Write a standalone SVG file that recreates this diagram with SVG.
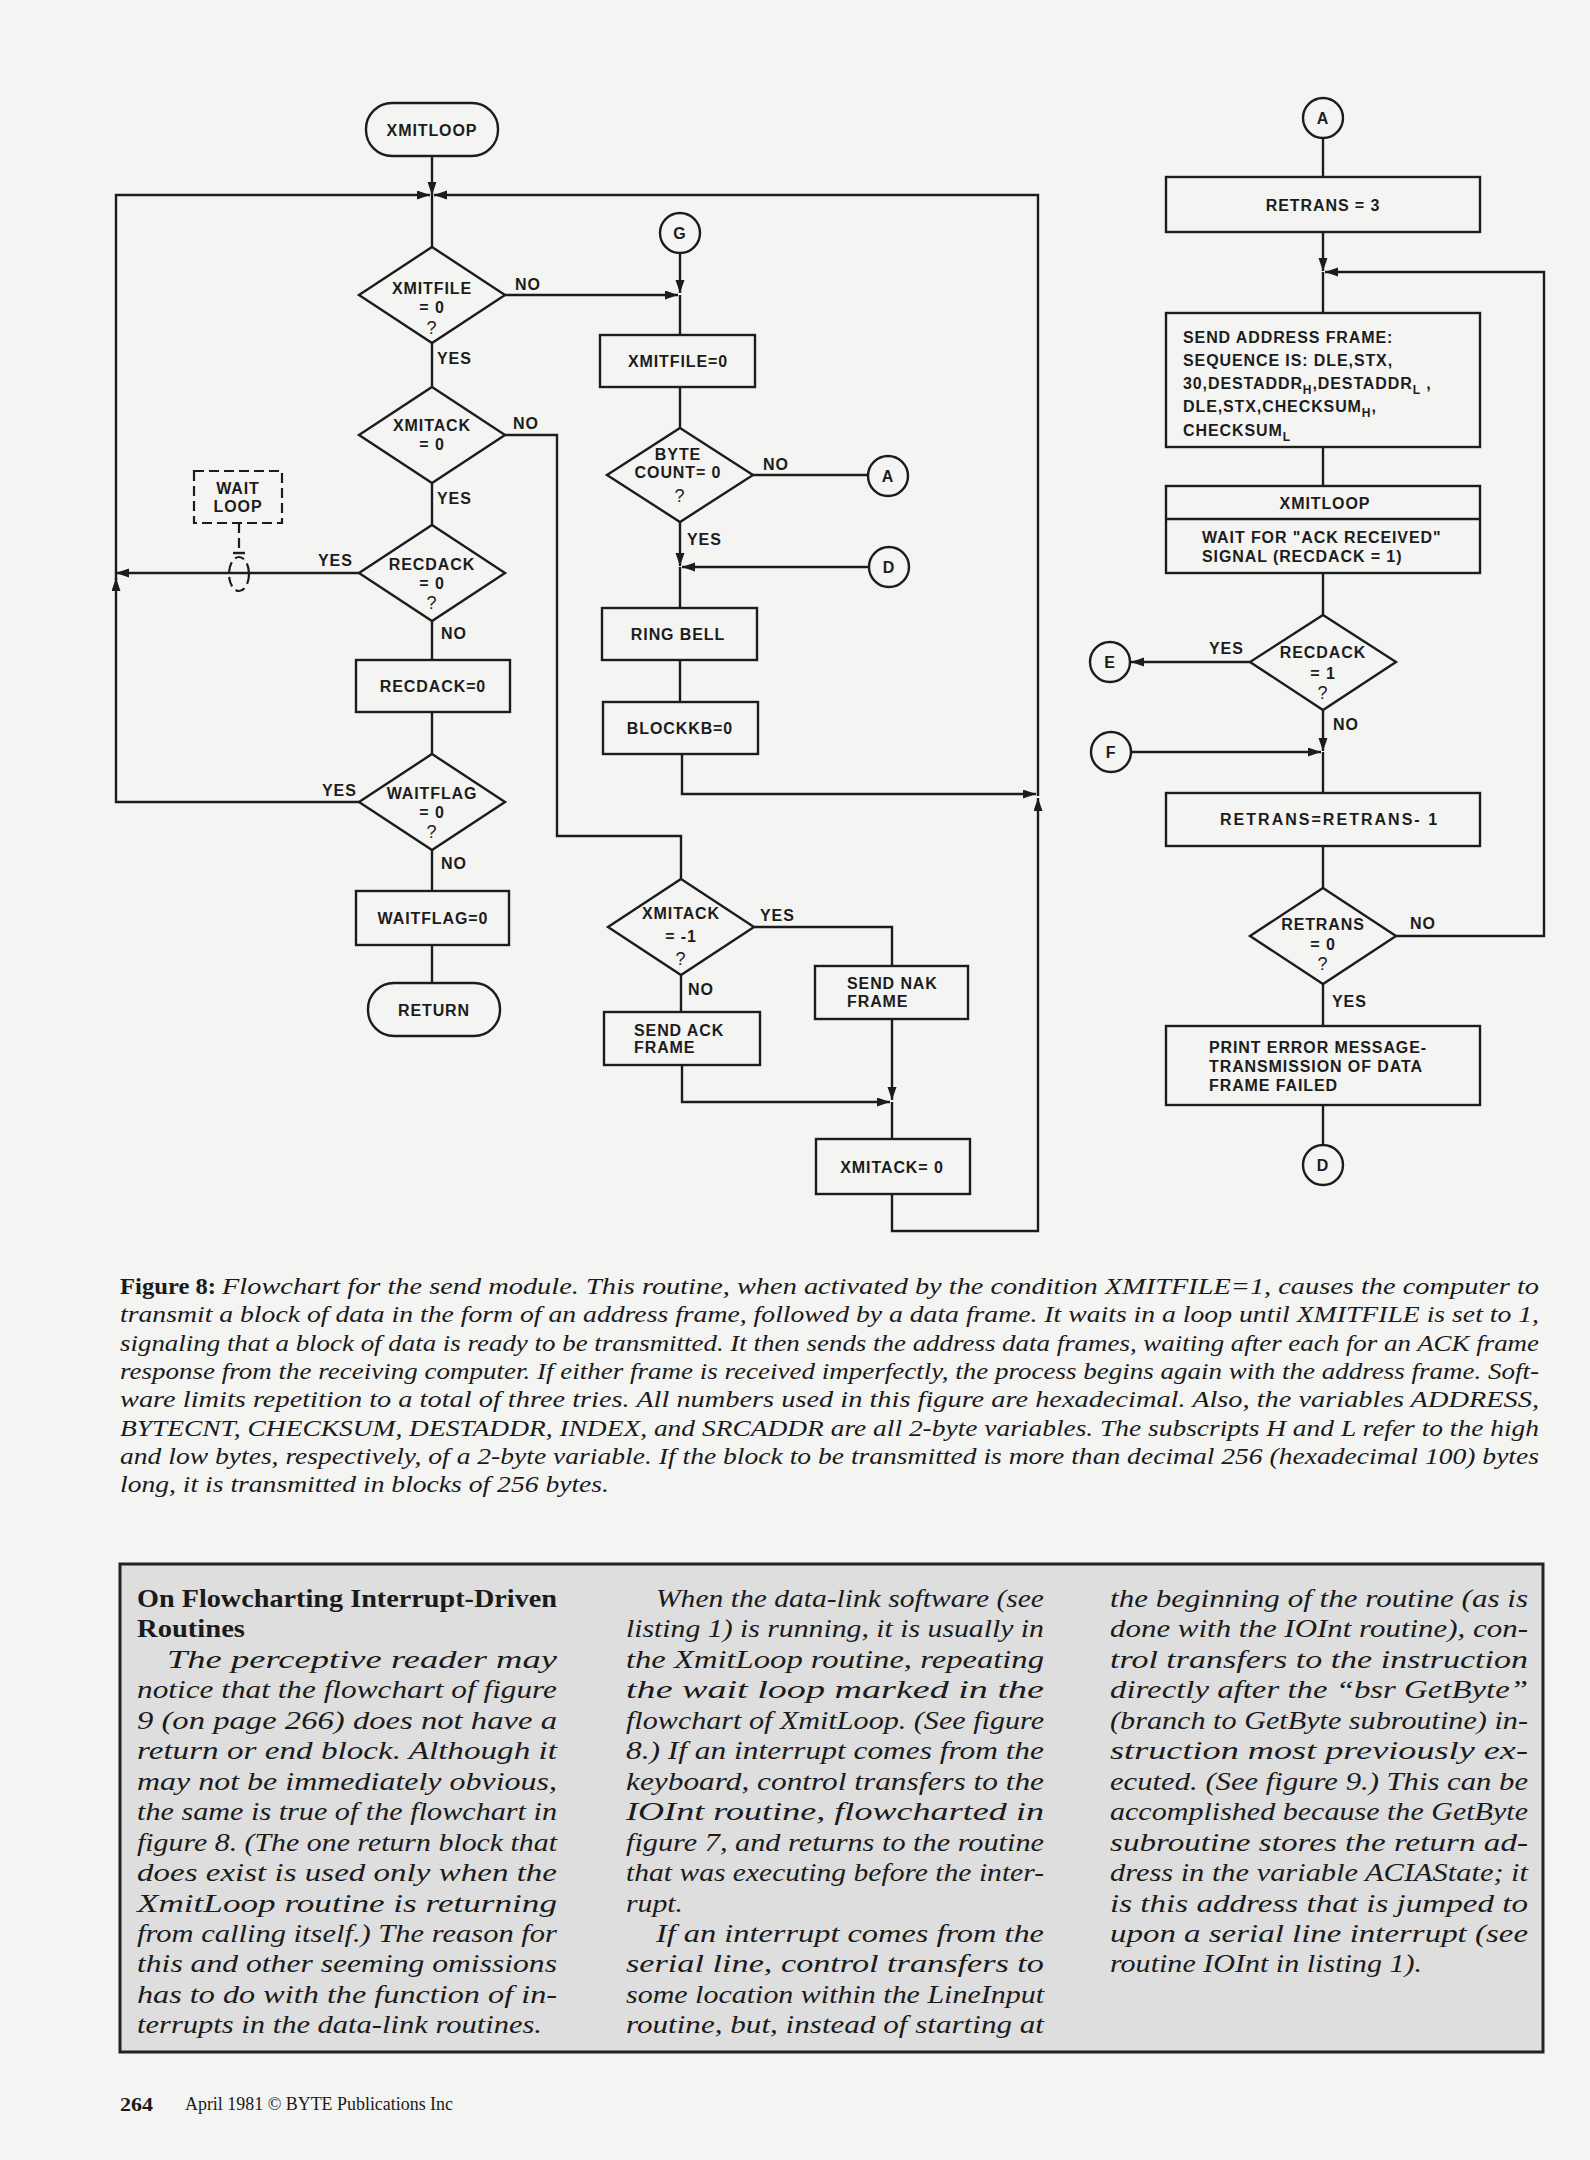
<svg xmlns="http://www.w3.org/2000/svg" width="1590" height="2160" viewBox="0 0 1590 2160">
<defs>
<marker id="ah" markerWidth="14" markerHeight="10" refX="13" refY="4.5" orient="auto" markerUnits="userSpaceOnUse">
<path d="M0,0 L13,4.5 L0,9 z" fill="#1c1c1c"/>
</marker>
</defs>
<style>
.ln{fill:none;stroke:#1c1c1c;stroke-width:2.4}
.bx{fill:none;stroke:#1c1c1c;stroke-width:2.4}
.ds{fill:none;stroke:#1c1c1c;stroke-width:2.2;stroke-dasharray:10 5}
.t{font-family:"Liberation Sans",Arial,sans-serif;font-weight:bold;font-size:16px;letter-spacing:0.9px;fill:#1c1c1c}
.c{text-anchor:middle}
.q{font-weight:normal;font-size:18px}
.cap{font-family:"Liberation Serif","Times New Roman",serif;font-style:italic;font-size:24px;fill:#1a1a1a}
.capb{font-family:"Liberation Serif","Times New Roman",serif;font-weight:bold;font-size:24px;fill:#1a1a1a}
.sb{font-family:"Liberation Serif","Times New Roman",serif;font-style:italic;font-size:26px;fill:#1a1a1a}
.sbh{font-family:"Liberation Serif","Times New Roman",serif;font-weight:bold;font-size:26px;fill:#1a1a1a}
.ft{font-family:"Liberation Serif","Times New Roman",serif;font-size:18px;fill:#1a1a1a}
</style>
<rect x="0" y="0" width="1590" height="2160" fill="#f4f4f2"/>

<g id="connectors">
<path class="ln" d="M432,156 V195" marker-end="url(#ah)"/>
<path class="ln" d="M432,195 V247"/>
<path class="ln" d="M432,343 V387"/>
<path class="ln" d="M432,483 V525"/>
<path class="ln" d="M432,621 V660"/>
<path class="ln" d="M432,712 V754"/>
<path class="ln" d="M432,850 V891"/>
<path class="ln" d="M432,945 V983"/>
<path class="ln" d="M505,295 H678" marker-end="url(#ah)"/>
<path class="ln" d="M680,253 V293" marker-end="url(#ah)"/>
<path class="ln" d="M680,295 V335"/>
<path class="ln" d="M505,435 H557 V836 H681 V879"/>
<path class="ln" d="M359,573 H116" marker-end="url(#ah)"/>
<path class="ln" d="M359,802 H116 V578" marker-end="url(#ah)"/>
<path class="ln" d="M116,580 V195 H430" marker-end="url(#ah)"/>
<path class="ln" d="M892,1194 V1231 H1038 V798" marker-end="url(#ah)"/>
<path class="ln" d="M682,754 V794 H1036" marker-end="url(#ah)"/>
<path class="ln" d="M1038,796 V195 H434" marker-end="url(#ah)"/>
<path class="ln" d="M680,387 V428"/>
<path class="ln" d="M753,475 H868"/>
<path class="ln" d="M680,522 V566" marker-end="url(#ah)"/>
<path class="ln" d="M869,567 H682" marker-end="url(#ah)"/>
<path class="ln" d="M680,567 V608"/>
<path class="ln" d="M680,660 V702"/>
<path class="ln" d="M754,927 H892 V966"/>
<path class="ln" d="M681,975 V1012"/>
<path class="ln" d="M682,1065 V1102 H890" marker-end="url(#ah)"/>
<path class="ln" d="M892,1019 V1100" marker-end="url(#ah)"/>
<path class="ln" d="M892,1102 V1139"/>
<path class="ln" d="M1323,138 V177"/>
<path class="ln" d="M1323,232 V271" marker-end="url(#ah)"/>
<path class="ln" d="M1396,936 H1544 V272 H1325" marker-end="url(#ah)"/>
<path class="ln" d="M1323,272 V313"/>
<path class="ln" d="M1323,447 V486"/>
<path class="ln" d="M1323,573 V615"/>
<path class="ln" d="M1250,662 H1131" marker-end="url(#ah)"/>
<path class="ln" d="M1323,710 V751" marker-end="url(#ah)"/>
<path class="ln" d="M1131,752 H1321" marker-end="url(#ah)"/>
<path class="ln" d="M1323,752 V793"/>
<path class="ln" d="M1323,846 V888"/>
<path class="ln" d="M1323,984 V1026"/>
<path class="ln" d="M1323,1105 V1145"/>
<path class="ds" d="M239,523 V552"/>
<path class="ln" d="M233,553 H245" stroke-width="2"/>
</g>

<g id="labels">
<text class="t" x="515" y="290">NO</text>
<text class="t" x="437" y="364">YES</text>
<text class="t" x="513" y="429">NO</text>
<text class="t" x="437" y="504">YES</text>
<text class="t" x="318" y="566">YES</text>
<text class="t" x="441" y="639">NO</text>
<text class="t" x="322" y="796">YES</text>
<text class="t" x="441" y="869">NO</text>
<text class="t" x="763" y="470">NO</text>
<text class="t" x="687" y="545">YES</text>
<text class="t" x="760" y="921">YES</text>
<text class="t" x="688" y="995">NO</text>
<text class="t" x="1209" y="654">YES</text>
<text class="t" x="1333" y="730">NO</text>
<text class="t" x="1410" y="929">NO</text>
<text class="t" x="1332" y="1007">YES</text>
</g>

<g id="n_xmitloop">
<rect class="bx" x="366" y="103" width="132" height="53" rx="26"/>
<text class="t c" x="432" y="136">XMITLOOP</text>
</g>
<g id="n_xmitfile_q">
<polygon class="bx" points="432,247 505,295 432,343 359,295"/>
<text class="t c" x="432" y="294">XMITFILE</text>
<text class="t c" x="432" y="313">= 0</text>
<text class="t c q" x="432" y="334">?</text>
</g>
<g id="n_xmitack_q">
<polygon class="bx" points="432,387 505,435 432,483 359,435"/>
<text class="t c" x="432" y="431">XMITACK</text>
<text class="t c" x="432" y="450">= 0</text>
</g>
<g id="n_waitloop">
<rect class="ds" x="194" y="471" width="88" height="52"/>
<text class="t c" x="238" y="494">WAIT</text>
<text class="t c" x="238" y="512">LOOP</text>
<ellipse class="ds" cx="239" cy="574" rx="10" ry="17" stroke-dasharray="6 5"/>
</g>
<g id="n_recdack_q">
<polygon class="bx" points="432,525 505,573 432,621 359,573"/>
<text class="t c" x="432" y="570">RECDACK</text>
<text class="t c" x="432" y="589">= 0</text>
<text class="t c q" x="432" y="609">?</text>
</g>
<g id="n_recdack0">
<rect class="bx" x="356" y="660" width="154" height="52"/>
<text class="t c" x="433" y="692">RECDACK=0</text>
</g>
<g id="n_waitflag_q">
<polygon class="bx" points="432,754 505,802 432,850 359,802"/>
<text class="t c" x="432" y="799">WAITFLAG</text>
<text class="t c" x="432" y="818">= 0</text>
<text class="t c q" x="432" y="838">?</text>
</g>
<g id="n_waitflag0">
<rect class="bx" x="356" y="891" width="153" height="54"/>
<text class="t c" x="433" y="924">WAITFLAG=0</text>
</g>
<g id="n_return">
<rect class="bx" x="368" y="983" width="132" height="53" rx="26"/>
<text class="t c" x="434" y="1016">RETURN</text>
</g>

<g id="n_g">
<circle class="bx" cx="680" cy="233" r="20"/>
<text class="t c" x="680" y="239">G</text>
</g>
<g id="n_xmitfile0">
<rect class="bx" x="600" y="335" width="155" height="52"/>
<text class="t c" x="678" y="367">XMITFILE=0</text>
</g>
<g id="n_bytecount_q">
<polygon class="bx" points="680,428 753,475 680,522 607,475"/>
<text class="t c" x="678" y="460">BYTE</text>
<text class="t c" x="678" y="478">COUNT= 0</text>
<text class="t c q" x="680" y="502">?</text>
</g>
<g id="n_a1">
<circle class="bx" cx="888" cy="476" r="20"/>
<text class="t c" x="888" y="482">A</text>
</g>
<g id="n_d1">
<circle class="bx" cx="889" cy="567" r="20"/>
<text class="t c" x="889" y="573">D</text>
</g>
<g id="n_ringbell">
<rect class="bx" x="602" y="608" width="155" height="52"/>
<text class="t c" x="678" y="640" letter-spacing="2">RING BELL</text>
</g>
<g id="n_blockkb">
<rect class="bx" x="603" y="702" width="155" height="52"/>
<text class="t c" x="680" y="734" letter-spacing="1.5">BLOCKKB=0</text>
</g>
<g id="n_xmitack1_q">
<polygon class="bx" points="681,879 754,927 681,975 608,927"/>
<text class="t c" x="681" y="919">XMITACK</text>
<text class="t c" x="681" y="942">= -1</text>
<text class="t c q" x="681" y="965">?</text>
</g>
<g id="n_sendnak">
<rect class="bx" x="815" y="966" width="153" height="53"/>
<text class="t" x="847" y="989" letter-spacing="1.6">SEND NAK</text>
<text class="t" x="847" y="1007" letter-spacing="1.6">FRAME</text>
</g>
<g id="n_sendack">
<rect class="bx" x="604" y="1012" width="156" height="53"/>
<text class="t" x="634" y="1036" letter-spacing="1.6">SEND ACK</text>
<text class="t" x="634" y="1053" letter-spacing="1.6">FRAME</text>
</g>
<g id="n_xmitack0">
<rect class="bx" x="816" y="1139" width="154" height="55"/>
<text class="t c" x="892" y="1173" letter-spacing="1.5">XMITACK= 0</text>
</g>

<g id="n_a2">
<circle class="bx" cx="1323" cy="118" r="20"/>
<text class="t c" x="1323" y="124">A</text>
</g>
<g id="n_retrans3">
<rect class="bx" x="1166" y="177" width="314" height="55"/>
<text class="t c" x="1323" y="211" letter-spacing="1.5">RETRANS = 3</text>
</g>
<g id="n_sendaddr">
<rect class="bx" x="1166" y="313" width="314" height="134"/>
<text class="t" x="1183" y="343">SEND ADDRESS FRAME:</text>
<text class="t" x="1183" y="366">SEQUENCE IS: DLE,STX,</text>
<text class="t" x="1183" y="389">30,DESTADDR<tspan font-size="12" dy="5">H</tspan><tspan dy="-5">,DESTADDR</tspan><tspan font-size="12" dy="5">L</tspan><tspan dy="-5"> ,</tspan></text>
<text class="t" x="1183" y="412">DLE,STX,CHECKSUM<tspan font-size="12" dy="5">H</tspan><tspan dy="-5">,</tspan></text>
<text class="t" x="1183" y="436">CHECKSUM<tspan font-size="12" dy="5">L</tspan></text>
</g>
<g id="n_xmitloop2">
<rect class="bx" x="1166" y="486" width="314" height="87"/>
<path class="ln" d="M1166,519 H1480"/>
<text class="t c" x="1325" y="509">XMITLOOP</text>
<text class="t" x="1202" y="543">WAIT FOR "ACK RECEIVED"</text>
<text class="t" x="1202" y="562">SIGNAL (RECDACK = 1)</text>
</g>
<g id="n_recdack1_q">
<polygon class="bx" points="1323,615 1396,662 1323,710 1250,662"/>
<text class="t c" x="1323" y="658">RECDACK</text>
<text class="t c" x="1323" y="679">= 1</text>
<text class="t c q" x="1323" y="699">?</text>
</g>
<g id="n_e">
<circle class="bx" cx="1110" cy="662" r="20"/>
<text class="t c" x="1110" y="668">E</text>
</g>
<g id="n_f">
<circle class="bx" cx="1111" cy="752" r="20"/>
<text class="t c" x="1111" y="758">F</text>
</g>
<g id="n_retransdec">
<rect class="bx" x="1166" y="793" width="314" height="53"/>
<text class="t" x="1220" y="825" textLength="218" lengthAdjust="spacing">RETRANS=RETRANS- 1</text>
</g>
<g id="n_retrans0_q">
<polygon class="bx" points="1323,888 1396,936 1323,984 1250,936"/>
<text class="t c" x="1323" y="930">RETRANS</text>
<text class="t c" x="1323" y="950">= 0</text>
<text class="t c q" x="1323" y="970">?</text>
</g>
<g id="n_printerr">
<rect class="bx" x="1166" y="1026" width="314" height="79"/>
<text class="t" x="1209" y="1053">PRINT ERROR MESSAGE-</text>
<text class="t" x="1209" y="1072">TRANSMISSION OF DATA</text>
<text class="t" x="1209" y="1091">FRAME FAILED</text>
</g>
<g id="n_d2">
<circle class="bx" cx="1323" cy="1165" r="20"/>
<text class="t c" x="1323" y="1171">D</text>
</g>

<g id="caption">
<text class="capb" x="120" y="1294" textLength="96" lengthAdjust="spacingAndGlyphs">Figure 8:</text>
<text class="cap" x="222" y="1294" textLength="1317" lengthAdjust="spacingAndGlyphs">Flowchart for the send module. This routine, when activated by the condition XMITFILE=1, causes the computer to</text>
<text class="cap" x="120" y="1322" textLength="1419" lengthAdjust="spacingAndGlyphs">transmit a block of data in the form of an address frame, followed by a data frame. It waits in a loop until XMITFILE is set to 1,</text>
<text class="cap" x="120" y="1351" textLength="1419" lengthAdjust="spacingAndGlyphs">signaling that a block of data is ready to be transmitted. It then sends the address data frames, waiting after each for an ACK frame</text>
<text class="cap" x="120" y="1379" textLength="1419" lengthAdjust="spacingAndGlyphs">response from the receiving computer. If either frame is received imperfectly, the process begins again with the address frame. Soft-</text>
<text class="cap" x="120" y="1407" textLength="1419" lengthAdjust="spacingAndGlyphs">ware limits repetition to a total of three tries. All numbers used in this figure are hexadecimal. Also, the variables ADDRESS,</text>
<text class="cap" x="120" y="1436" textLength="1419" lengthAdjust="spacingAndGlyphs">BYTECNT, CHECKSUM, DESTADDR, INDEX, and SRCADDR are all 2-byte variables. The subscripts H and L refer to the high</text>
<text class="cap" x="120" y="1464" textLength="1419" lengthAdjust="spacingAndGlyphs">and low bytes, respectively, of a 2-byte variable. If the block to be transmitted is more than decimal 256 (hexadecimal 100) bytes</text>
<text class="cap" x="120" y="1492" textLength="489" lengthAdjust="spacingAndGlyphs">long, it is transmitted in blocks of 256 bytes.</text>
</g>

<g id="sidebar">
<rect x="120" y="1564" width="1423" height="488" fill="#dedede" stroke="#222" stroke-width="3"/>
<text class="sbh" x="137" y="1607" textLength="420" lengthAdjust="spacingAndGlyphs">On Flowcharting Interrupt-Driven</text>
<text class="sbh" x="137" y="1637" textLength="108" lengthAdjust="spacingAndGlyphs">Routines</text>
<text class="sb" x="167" y="1668" textLength="390" lengthAdjust="spacingAndGlyphs">The perceptive reader may</text>
<text class="sb" x="137" y="1698" textLength="420" lengthAdjust="spacingAndGlyphs">notice that the flowchart of figure</text>
<text class="sb" x="137" y="1729" textLength="420" lengthAdjust="spacingAndGlyphs">9 (on page 266) does not have a</text>
<text class="sb" x="137" y="1759" textLength="420" lengthAdjust="spacingAndGlyphs">return or end block. Although it</text>
<text class="sb" x="137" y="1790" textLength="420" lengthAdjust="spacingAndGlyphs">may not be immediately obvious,</text>
<text class="sb" x="137" y="1820" textLength="420" lengthAdjust="spacingAndGlyphs">the same is true of the flowchart in</text>
<text class="sb" x="137" y="1851" textLength="420" lengthAdjust="spacingAndGlyphs">figure 8. (The one return block that</text>
<text class="sb" x="137" y="1881" textLength="420" lengthAdjust="spacingAndGlyphs">does exist is used only when the</text>
<text class="sb" x="137" y="1912" textLength="420" lengthAdjust="spacingAndGlyphs">XmitLoop routine is returning</text>
<text class="sb" x="137" y="1942" textLength="420" lengthAdjust="spacingAndGlyphs">from calling itself.) The reason for</text>
<text class="sb" x="137" y="1972" textLength="420" lengthAdjust="spacingAndGlyphs">this and other seeming omissions</text>
<text class="sb" x="137" y="2003" textLength="420" lengthAdjust="spacingAndGlyphs">has to do with the function of in-</text>
<text class="sb" x="137" y="2033" textLength="405" lengthAdjust="spacingAndGlyphs">terrupts in the data-link routines.</text>

<text class="sb" x="656" y="1607" textLength="388" lengthAdjust="spacingAndGlyphs">When the data-link software (see</text>
<text class="sb" x="626" y="1637" textLength="418" lengthAdjust="spacingAndGlyphs">listing 1) is running, it is usually in</text>
<text class="sb" x="626" y="1668" textLength="418" lengthAdjust="spacingAndGlyphs">the XmitLoop routine, repeating</text>
<text class="sb" x="626" y="1698" textLength="418" lengthAdjust="spacingAndGlyphs">the wait loop marked in the</text>
<text class="sb" x="626" y="1729" textLength="418" lengthAdjust="spacingAndGlyphs">flowchart of XmitLoop. (See figure</text>
<text class="sb" x="626" y="1759" textLength="418" lengthAdjust="spacingAndGlyphs">8.) If an interrupt comes from the</text>
<text class="sb" x="626" y="1790" textLength="418" lengthAdjust="spacingAndGlyphs">keyboard, control transfers to the</text>
<text class="sb" x="626" y="1820" textLength="418" lengthAdjust="spacingAndGlyphs">IOInt routine, flowcharted in</text>
<text class="sb" x="626" y="1851" textLength="418" lengthAdjust="spacingAndGlyphs">figure 7, and returns to the routine</text>
<text class="sb" x="626" y="1881" textLength="418" lengthAdjust="spacingAndGlyphs">that was executing before the inter-</text>
<text class="sb" x="626" y="1912" textLength="57" lengthAdjust="spacingAndGlyphs">rupt.</text>
<text class="sb" x="656" y="1942" textLength="388" lengthAdjust="spacingAndGlyphs">If an interrupt comes from the</text>
<text class="sb" x="626" y="1972" textLength="418" lengthAdjust="spacingAndGlyphs">serial line, control transfers to</text>
<text class="sb" x="626" y="2003" textLength="418" lengthAdjust="spacingAndGlyphs">some location within the LineInput</text>
<text class="sb" x="626" y="2033" textLength="418" lengthAdjust="spacingAndGlyphs">routine, but, instead of starting at</text>

<text class="sb" x="1110" y="1607" textLength="418" lengthAdjust="spacingAndGlyphs">the beginning of the routine (as is</text>
<text class="sb" x="1110" y="1637" textLength="418" lengthAdjust="spacingAndGlyphs">done with the IOInt routine), con-</text>
<text class="sb" x="1110" y="1668" textLength="418" lengthAdjust="spacingAndGlyphs">trol transfers to the instruction</text>
<text class="sb" x="1110" y="1698" textLength="418" lengthAdjust="spacingAndGlyphs">directly after the “bsr GetByte”</text>
<text class="sb" x="1110" y="1729" textLength="418" lengthAdjust="spacingAndGlyphs">(branch to GetByte subroutine) in-</text>
<text class="sb" x="1110" y="1759" textLength="418" lengthAdjust="spacingAndGlyphs">struction most previously ex-</text>
<text class="sb" x="1110" y="1790" textLength="418" lengthAdjust="spacingAndGlyphs">ecuted. (See figure 9.) This can be</text>
<text class="sb" x="1110" y="1820" textLength="418" lengthAdjust="spacingAndGlyphs">accomplished because the GetByte</text>
<text class="sb" x="1110" y="1851" textLength="418" lengthAdjust="spacingAndGlyphs">subroutine stores the return ad-</text>
<text class="sb" x="1110" y="1881" textLength="418" lengthAdjust="spacingAndGlyphs">dress in the variable ACIAState; it</text>
<text class="sb" x="1110" y="1912" textLength="418" lengthAdjust="spacingAndGlyphs">is this address that is jumped to</text>
<text class="sb" x="1110" y="1942" textLength="418" lengthAdjust="spacingAndGlyphs">upon a serial line interrupt (see</text>
<text class="sb" x="1110" y="1972" textLength="312" lengthAdjust="spacingAndGlyphs">routine IOInt in listing 1).</text>
</g>

<g id="footer">
<text class="ft" x="120" y="2111" font-weight="bold" font-size="24" textLength="33" lengthAdjust="spacingAndGlyphs">264</text>
<text class="ft" x="185" y="2110" textLength="268" lengthAdjust="spacingAndGlyphs">April 1981 © BYTE Publications Inc</text>
</g>
</svg>
